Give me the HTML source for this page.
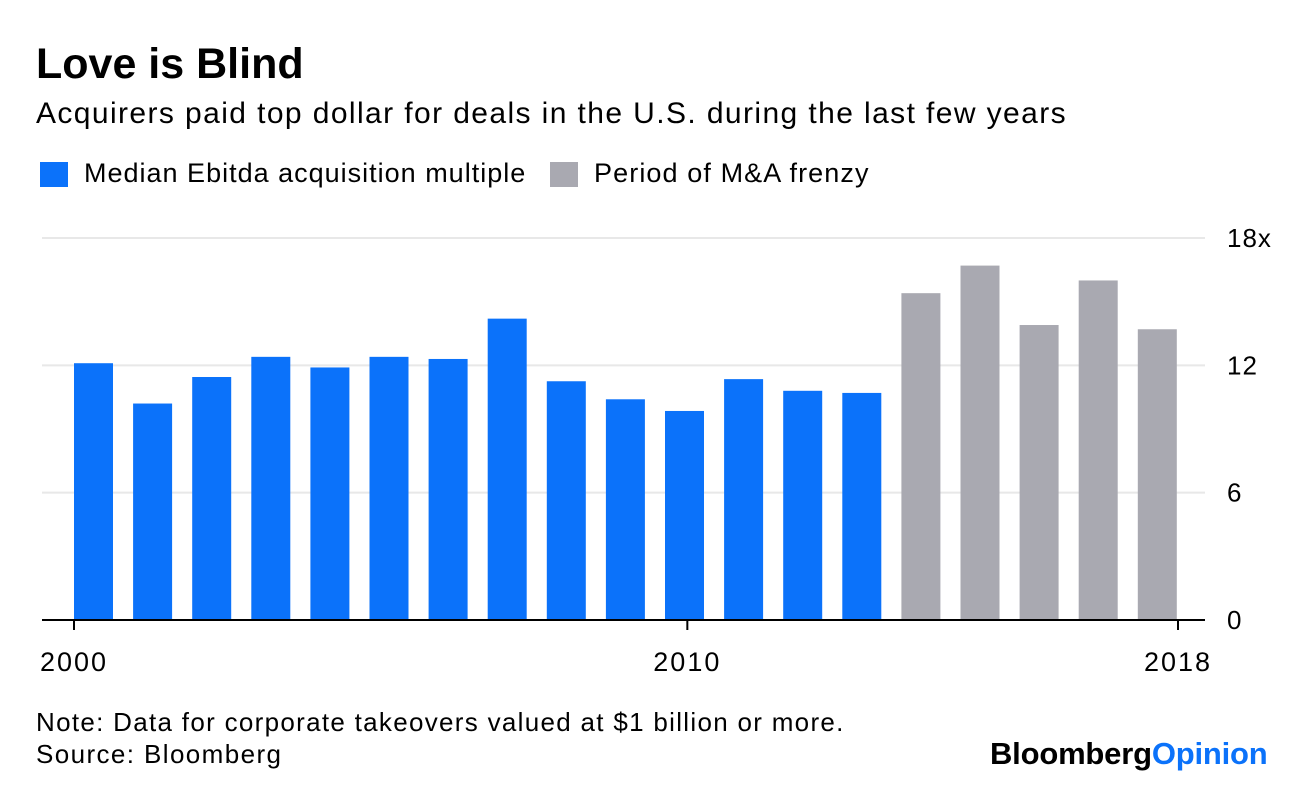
<!DOCTYPE html>
<html><head><meta charset="utf-8"><style>
body{margin:0;width:1296px;height:788px;background:#fff;font-family:"Liberation Sans",sans-serif;overflow:hidden;position:relative}
.t{position:absolute;white-space:nowrap;color:#000}
</style></head><body>
<div class="t" style="left:36px;top:40px;font-size:43px;font-weight:bold;letter-spacing:0px">Love is Blind</div>
<div class="t" style="left:36px;top:97px;font-size:30px;letter-spacing:1.4px">Acquirers paid top dollar for deals in the U.S. during the last few years</div>
<div style="position:absolute;left:40px;top:162px;width:28px;height:25px;background:#0b72fa"></div>
<div class="t" style="left:84px;top:158px;font-size:27px;letter-spacing:1px">Median Ebitda acquisition multiple</div>
<div style="position:absolute;left:550px;top:162px;width:28px;height:25px;background:#a9a9b1"></div>
<div class="t" style="left:594px;top:158px;font-size:27px;letter-spacing:1.1px">Period of M&amp;A frenzy</div>
<svg id="chart" width="1296" height="700" style="position:absolute;left:0;top:0"></svg>
<div class="t" style="left:36px;top:707px;font-size:26px;letter-spacing:1.3px">Note: Data for corporate takeovers valued at $1 billion or more.</div>
<div class="t" style="left:36px;top:739px;font-size:26px;letter-spacing:1.4px">Source: Bloomberg</div>
<div class="t" style="left:990px;top:736px;font-size:31px;font-weight:bold;letter-spacing:-0.2px">Bloomberg<span style="color:#0b72fa">Opinion</span></div>
<script>
const years=[2000,2001,2002,2003,2004,2005,2006,2007,2008,2009,2010,2011,2012,2013,2014,2015,2016,2017,2018];
const values=[12.1,10.2,11.45,12.4,11.9,12.4,12.3,14.2,11.25,10.4,9.85,11.35,10.8,10.7,15.4,16.7,13.9,16.0,13.7];
const frenzy=[0,0,0,0,0,0,0,0,0,0,0,0,0,0,1,1,1,1,1];
const yTicks=[0,6,12,18];
const yTickLabels=["0","6","12","18x"];
const xTicks=[2000,2010,2018];
const NS="http://www.w3.org/2000/svg";
const svg=document.getElementById('chart');
const y=v=>620-v*(382/18);
const xb=i=>74+i*59.1;
const xt=yr=>74+(yr-2000)*(1104/18);
function mk(t,a){const e=document.createElementNS(NS,t);for(const k in a)e.setAttribute(k,a[k]);svg.appendChild(e);return e;}
yTicks.forEach((v,i)=>{
  if(v>0){const g=mk('line',{x1:42,x2:1205,y1:y(v),y2:y(v),stroke:'#e8e8e8','stroke-width':2});
  
  }
  const t=mk('text',{x:1227,y:y(v)+9,'font-size':26,'letter-spacing':1,'font-family':'Liberation Sans, sans-serif'});
  t.textContent=yTickLabels[i];
  
  
});
values.forEach((v,i)=>{
  const r=mk('rect',{x:xb(i),y:y(v),width:39,height:620-y(v),fill:frenzy[i]?'#a9a9b1':'#0b72fa'});
  
  
});
const ax=mk('line',{x1:42,x2:1205,y1:620,y2:620,stroke:'#000','stroke-width':2});


xTicks.forEach(yr=>{
  const tk=mk('line',{x1:xt(yr),x2:xt(yr),y1:620,y2:630,stroke:'#000','stroke-width':2});
  
  
  const t=mk('text',{x:xt(yr),y:671,'font-size':27,'letter-spacing':2,'text-anchor':'middle','font-family':'Liberation Sans, sans-serif'});
  t.textContent=yr;
  
  
});
</script>
</body></html>
